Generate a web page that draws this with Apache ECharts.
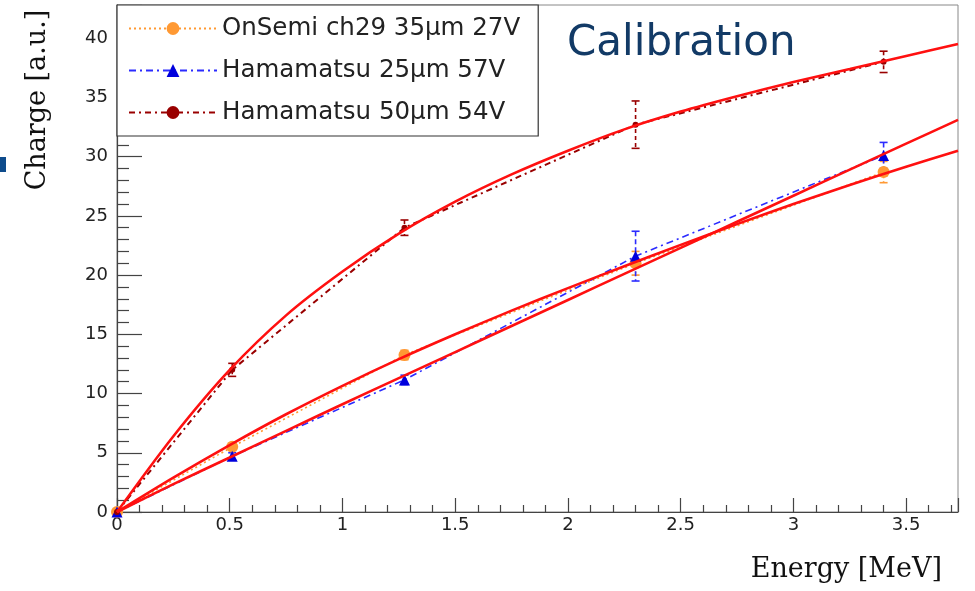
<!DOCTYPE html>
<html>
<head>
<meta charset="utf-8">
<script src="https://cdn.jsdelivr.net/npm/echarts@6/dist/echarts.min.js"></script>
<style>
html,body{margin:0;padding:0;background:#fff;}
#chart{width:975px;height:591px;}
</style>
</head>
<body>
<div id="chart"></div>
<script>
// ---- data ----
const seriesNames = ['OnSemi ch29 35\u03bcm 27V', 'Hamamatsu 25\u03bcm 57V', 'Hamamatsu 50\u03bcm 54V'];
const energy = [0, 0.511, 1.275, 2.3, 3.4];
const onsemiCharge = [0, 5.5, 13.25, 21.0, 28.7];
const onsemiErr    = [0, 0.3, 0.4, 1.0, 0.9];
const ham25Charge  = [0, 4.7, 11.15, 21.6, 30.1];
const ham25Err     = [0, 0.3, 0.4, 2.1, 1.1];
const ham50Charge  = [0, 12.0, 24.0, 32.7, 38.0];
const ham50Err     = [0, 0.55, 0.65, 2.0, 0.9];

// fit curves
const fitEnergy     = [0, 0.25, 0.5, 0.75, 1.0, 1.25, 1.5, 1.75, 2.0, 2.25, 2.5, 2.75, 3.0, 3.25, 3.5, 3.73];
const onsemiFit     = [0, 2.9, 5.65, 8.25, 10.65, 12.9, 15.0, 17.0, 18.9, 20.75, 22.55, 24.3, 26.0, 27.6, 29.15, 30.5];
const ham25Fit      = [0, 2.35, 4.6, 6.85, 9.1, 11.3, 13.5, 15.7, 17.9, 20.1, 22.3, 24.5, 26.7, 28.9, 31.1, 33.1];
const ham50Fit      = [0, 6.4, 12.0, 16.6, 20.3, 23.5, 26.2, 28.5, 30.5, 32.3, 33.8, 35.1, 36.3, 37.4, 38.5, 39.5];

const xTicksInterval = 0.5;
const yTicksInterval = 5;

const colors = ['#ff9933', '#2b2bff', '#990000'];

function pairs(xs, ys) { return xs.map((x, i) => [x, ys[i]]); }
function errData(xs, ys, es) { return xs.map((x, i) => [x, ys[i], es[i]]); }

function errorSeries(name, data, color, dash) {
  return {
    type: 'custom',
    name: name + ' err',
    data: data,
    z: 3,
    silent: true,
    encode: { x: 0, y: 1 },
    renderItem: function (params, api) {
      const x = api.value(0), y = api.value(1), e = api.value(2);
      if (!e) return null;
      const top = api.coord([x, y + e]);
      const bot = api.coord([x, y - e]);
      const style = { stroke: color, lineWidth: 1.6, lineDash: dash };
      return {
        type: 'group',
        children: [
          { type: 'line', shape: { x1: top[0], y1: top[1], x2: bot[0], y2: bot[1] }, style: style },
          { type: 'line', shape: { x1: top[0] - 4, y1: top[1], x2: top[0] + 4, y2: top[1] }, style: { stroke: color, lineWidth: 1.6 } },
          { type: 'line', shape: { x1: bot[0] - 4, y1: bot[1], x2: bot[0] + 4, y2: bot[1] }, style: { stroke: color, lineWidth: 1.6 } }
        ]
      };
    }
  };
}

const chart = echarts.init(document.getElementById('chart'), null, { renderer: 'canvas' });

const axisLabelStyle = { color: '#222', fontSize: 18, fontFamily: 'DejaVu Sans' };

function fitSeries(name, ys) {
  return { name: name, type: 'line', data: pairs(fitEnergy, ys), smooth: 0.3,
    symbol: 'none', z: 5, lineStyle: { color: '#ff1010', width: 2.6 } };
}

const option = {
  animation: false,
  backgroundColor: '#fff',
  grid: { left: 117, right: 17, top: 5, bottom: 79, show: true, borderColor: '#888', borderWidth: 1 },
  xAxis: {
    type: 'value', min: 0, max: 3.73, interval: xTicksInterval,
    axisLine: { show: true, lineStyle: { color: '#444', width: 1.2 } },
    axisTick: { show: true, inside: true, length: 14, lineStyle: { color: '#444', width: 1.2 } },
    minorTick: { show: true, splitNumber: 5, length: 7, lineStyle: { color: '#444', width: 1.2 } },
    splitLine: { show: false },
    axisLabel: Object.assign({ margin: 4, showMaxLabel: false,
      formatter: v => (Math.abs(v / xTicksInterval - Math.round(v / xTicksInterval)) < 1e-6 ? String(+v.toFixed(1)) : '') }, axisLabelStyle)
  },
  yAxis: {
    type: 'value', min: 0, max: 42.8, interval: yTicksInterval,
    axisLine: { show: true, lineStyle: { color: '#444', width: 1.2 } },
    axisTick: { show: true, inside: true, length: 25, lineStyle: { color: '#444', width: 1.2 } },
    minorTick: { show: true, splitNumber: 5, length: 12, lineStyle: { color: '#444', width: 1.2 } },
    splitLine: { show: false },
    axisLabel: Object.assign({ margin: 9, showMaxLabel: false,
      formatter: v => (v % yTicksInterval === 0 ? String(v) : '') }, axisLabelStyle)
  },
  legend: {
    data: seriesNames,
    orient: 'vertical',
    left: 117, top: 5,
    padding: [11, 18, 11, 11],
    itemWidth: 88, itemHeight: 16, itemGap: 17,
    backgroundColor: '#fff',
    borderColor: '#333', borderWidth: 1.2,
    textStyle: { fontSize: 24.5, lineHeight: 25, color: '#222', fontFamily: 'DejaVu Sans' }
  },
  graphic: [
    { type: 'text', left: 567, top: 23, z: 100,
      style: { text: 'Calibration', fontSize: 42, fill: '#123a66', fontFamily: 'DejaVu Sans' } },
    { type: 'text', x: 38, y: 100, rotation: Math.PI / 2, z: 100,
      style: { text: 'Charge [a.u.]', fontSize: 27, fill: '#111', fontFamily: 'DejaVu Serif', align: 'center', verticalAlign: 'middle' } },
    { type: 'text', x: 942, y: 570, z: 100,
      style: { text: 'Energy [MeV]', fontSize: 27, fill: '#111', fontFamily: 'DejaVu Serif', align: 'right', verticalAlign: 'middle' } },
    { type: 'rect', shape: { x: 0, y: 157, width: 6, height: 15 }, style: { fill: '#0e4c8c' } }
  ],
  series: [
    // data graphs
    { name: seriesNames[0], type: 'line', data: pairs(energy, onsemiCharge), z: 4,
      symbol: 'circle', symbolSize: 12, itemStyle: { color: colors[0] },
      lineStyle: { color: colors[0], width: 1.6, type: [2, 3] } },
    { name: seriesNames[1], type: 'line', data: pairs(energy, ham25Charge), z: 4,
      symbol: 'triangle', symbolSize: 11, itemStyle: { color: '#0000dd' },
      lineStyle: { color: colors[1], width: 1.6, type: [7, 4, 2, 4] } },
    { name: seriesNames[2], type: 'line', data: pairs(energy, ham50Charge), z: 4,
      symbol: 'circle', symbolSize: 6, itemStyle: { color: colors[2] },
      lineStyle: { color: colors[2], width: 2, type: [6, 4, 2, 4] } },
    errorSeries(seriesNames[0], errData(energy, onsemiCharge, onsemiErr), colors[0], [2, 3]),
    errorSeries(seriesNames[1], errData(energy, ham25Charge, ham25Err), colors[1], [5, 3]),
    errorSeries(seriesNames[2], errData(energy, ham50Charge, ham50Err), colors[2], [4, 3]),
    // fits
    fitSeries('fit1', onsemiFit),
    fitSeries('fit2', ham25Fit),
    fitSeries('fit3', ham50Fit)
  ]
};
chart.setOption(option);
</script>
</body>
</html>
